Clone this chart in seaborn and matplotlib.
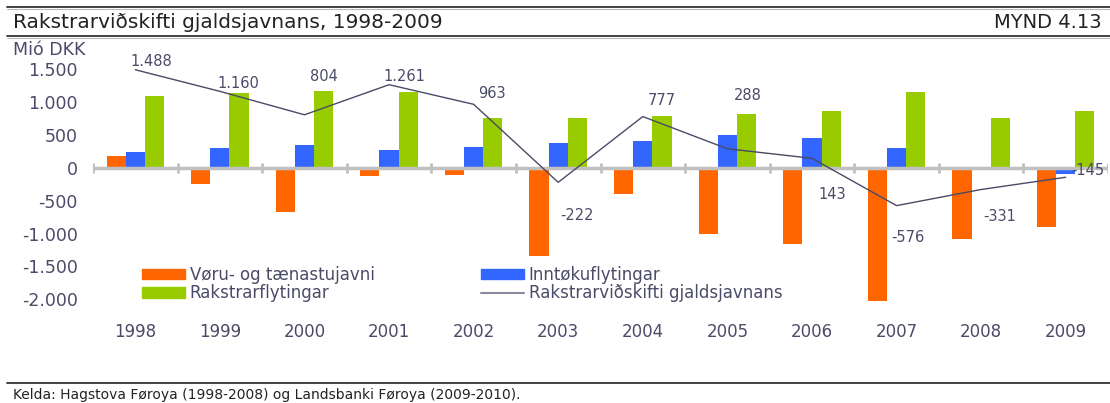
import numpy as np
import pandas as pd
import seaborn as sns
import matplotlib.pyplot as plt
from matplotlib.patches import Patch
from matplotlib.lines import Line2D

years = ['1998', '1999', '2000', '2001', '2002', '2003',
         '2004', '2005', '2006', '2007', '2008', '2009']
voru = [180, -250, -670, -120, -105, -1345, -405, -1005, -1160, -2025, -1090, -905]
inntoku = [240, 300, 347, 270, 316, 378, 408, 500, 454, 301, 0, -97]
rakstrarflyt = [1095, 1128, 1172, 1143, 760, 760, 790, 820, 866, 1157, 760, 866]
gjaldsjavn = [1488, 1160, 804, 1261, 963, -222, 777, 288, 143, -576, -331, -145]

series_names = ['Vøru- og tænastujavni', 'Inntøkuflytingar', 'Rakstrarflytingar']
line_name = 'Rakstrarviðskifti gjaldsjavnans'
colors = {'Vøru- og tænastujavni': '#FF6600',
          'Inntøkuflytingar': '#3366FF',
          'Rakstrarflytingar': '#99CC00'}
line_color = '#4a4a66'
text_color = '#4b4b69'

# label offsets (pixels) relative to line points
label_dx = [16, 18, 19, 15, 18, 19, 19, 20, 20, 11, 19, 22]
label_dy = [8, 8, 38, 8, 11, -33, 16, 53, -36, -32, -27, 7]


def thousands(v):
    return f"{v:,}".replace(',', '.')


def make_chart():
    df = pd.DataFrame({
        'year': years * 3,
        'series': np.repeat(series_names, len(years)),
        'value': voru + inntoku + rakstrarflyt,
    })

    fig = plt.figure(figsize=(11.1, 4.03), dpi=100)
    ax = fig.add_axes([0.0838, 0.2408, 0.9144, 0.6044])

    sns.barplot(data=df, x='year', y='value', hue='series', hue_order=series_names,
                palette=colors, width=0.68, saturation=1, legend=False,
                linewidth=0, edgecolor='none', ax=ax)
    xs = np.arange(len(years))
    sns.lineplot(x=xs, y=gjaldsjavn, color=line_color, linewidth=1, zorder=4, ax=ax)

    ax.set_ylim(-2100, 1600)
    ax.set_xlim(-0.5, len(years) - 0.5)
    ax.axhline(0, color='#c0c0c0', linewidth=2.5, zorder=3)
    ax.vlines(np.arange(len(years) + 1) - 0.5, -75, 75, color='#c0c0c0', linewidth=2, zorder=3)

    for k, v in enumerate(gjaldsjavn):
        ax.annotate(thousands(v), xy=(k, v), xytext=(label_dx[k], label_dy[k]),
                    textcoords='offset pixels', ha='center', va='center',
                    fontsize=10.5, color=text_color, zorder=5)

    yticks = list(range(-2000, 1501, 500))
    ax.set_yticks(yticks)
    ax.set_yticklabels([thousands(t) for t in yticks], fontsize=12.5, color=text_color)
    ax.tick_params(axis='y', length=0, pad=11)
    ax.tick_params(axis='x', length=0, pad=12, labelsize=12, labelcolor=text_color)
    ax.set_xlabel('')
    ax.set_ylabel('')
    for s in ax.spines.values():
        s.set_visible(False)
    ax.grid(False)

    handles = [Patch(color=colors[series_names[0]]),
               Patch(color=colors[series_names[2]]),
               Patch(color=colors[series_names[1]]),
               Line2D([], [], color='#8a8a9e', linewidth=1.5)]
    labels = [series_names[0], series_names[2], series_names[1], line_name]
    leg = fig.legend(handles, labels, ncol=2, loc='upper left',
                     bbox_to_anchor=(142 / 1110, 1 - 266 / 403), frameon=False,
                     fontsize=12, handlelength=2.6, handleheight=0.6, handletextpad=0.25,
                     columnspacing=6.4, labelspacing=0.02, borderpad=0, borderaxespad=0)
    for t in leg.get_texts():
        t.set_color(text_color)

    # header, unit label, footer
    fig.text(13 / 1110, 1 - 23 / 403, 'Rakstrarviðskifti gjaldsjavnans, 1998-2009',
             fontsize=14.5, color='#222222', va='center')
    fig.text(1102 / 1110, 1 - 23 / 403, 'MYND 4.13', fontsize=14, color='#222222',
             va='center', ha='right')
    fig.text(13 / 1110, 1 - 50 / 403, 'Mió DKK', fontsize=12.5, color=text_color, va='center')
    fig.text(13 / 1110, 1 - 395 / 403, 'Kelda: Hagstova Føroya (1998-2008) og Landsbanki Føroya (2009-2010).',
             fontsize=10, color='#222222', va='center')
    for yy in [7, 36, 383]:
        fig.add_artist(Line2D([7 / 1110, 1], [1 - yy / 403] * 2, color='#333333', linewidth=1.3))
        if yy != 383:
            fig.add_artist(Line2D([7 / 1110, 1], [1 - (yy + 1.8) / 403] * 2, color='#bbbbbb', linewidth=0.8))

    fig.savefig('out.png', dpi=100)


def main():
    sns.set_style('white')
    plt.rcParams['font.family'] = ['DejaVu Sans']
    make_chart()


if __name__ == "__main__":
    main()
